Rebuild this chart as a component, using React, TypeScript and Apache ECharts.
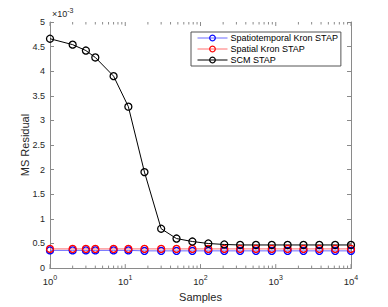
import React, { useEffect, useRef } from "react";
import * as echarts from "echarts";

const samples = [1, 2, 3, 4, 7, 11, 18, 30, 48, 78, 127, 207, 336, 546, 886, 1438, 2336, 3793, 6158, 10000];
const spatiotemporalKron = [0.36, 0.36, 0.36, 0.36, 0.36, 0.36, 0.35, 0.35, 0.35, 0.35, 0.35, 0.35, 0.35, 0.35, 0.35, 0.35, 0.35, 0.35, 0.35, 0.35];
const spatialKron = [0.39, 0.39, 0.39, 0.39, 0.39, 0.39, 0.39, 0.39, 0.39, 0.39, 0.39, 0.39, 0.39, 0.39, 0.39, 0.39, 0.39, 0.39, 0.39, 0.39];
const scmStap = [4.66, 4.54, 4.42, 4.28, 3.9, 3.28, 1.95, 0.8, 0.6, 0.54, 0.5, 0.48, 0.47, 0.47, 0.47, 0.47, 0.47, 0.47, 0.47, 0.47];
const seriesNames = ["Spatiotemporal Kron STAP", "Spatial Kron STAP", "SCM STAP"];
const majorTicks = [1, 10, 100, 1000, 10000];
const minorTicks: number[] = [];
for (let d = 1; d < 10000; d *= 10) for (let k = 2; k <= 9; k++) minorTicks.push(d * k);

const AXL = "#8a8a8a";
const TXT = "#262626";
const FONT = "Liberation Sans, Arial, sans-serif";

export default function App() {
  const ref = useRef<HTMLDivElement>(null);
  useEffect(() => {
    const chart = echarts.init(ref.current!, null, { renderer: "svg" });
    const mk = (name: string, data: number[], color: string, lineColor: string) => ({
      name,
      type: "line",
      data: samples.map((s, i) => [s, data[i]]),
      symbol: "circle",
      symbolSize: 7,
      showSymbol: true,
      itemStyle: { color: "rgba(0,0,0,0)", borderColor: color, borderWidth: 1.3 },
      lineStyle: { color: lineColor, width: 1 },
      color,
    });
    const axisLine = { show: true, lineStyle: { color: AXL, width: 1 } };
    const axisTick = { show: true, inside: true, length: 4, lineStyle: { color: AXL, width: 1 } };
    const tickSeries = (vals: number[], len: number) => ({
      type: "custom",
      silent: true,
      xAxisIndex: 0,
      yAxisIndex: 0,
      data: vals.map((v) => [v]),
      renderItem: (params: any, api: any) => {
        const v = api.value(0);
        const b = api.coord([v, 0]);
        const t = api.coord([v, 5]);
        const st = { stroke: AXL, lineWidth: 1 };
        return {
          type: "group",
          children: [
            { type: "line", shape: { x1: b[0], y1: b[1], x2: b[0], y2: b[1] - len }, style: st },
            { type: "line", shape: { x1: t[0], y1: t[1], x2: t[0], y2: t[1] + len }, style: st },
          ],
        };
      },
    });
    chart.setOption({
      animation: false,
      textStyle: { fontFamily: FONT },
      grid: { left: 50, right: 37, top: 22, bottom: 34 },
      legend: {
        data: seriesNames,
        orient: "vertical",
        left: 191,
        top: 32,
        backgroundColor: "#fff",
        borderColor: "#555",
        borderWidth: 1,
        borderRadius: 0,
        padding: [1, 3, 1, 6],
        itemGap: 1,
        itemWidth: 30,
        itemHeight: 7,
        lineStyle: { width: 1 },
        itemStyle: { borderWidth: 1.2 },
        textStyle: { fontSize: 9, lineHeight: 10, color: "#000", fontFamily: FONT, padding: [0, 0, 0, -2] },
      },
      xAxis: [
        {
          type: "log",
          logBase: 10,
          min: 1,
          max: 10000,
          name: "Samples",
          nameLocation: "middle",
          nameGap: 18,
          nameTextStyle: { fontSize: 11, color: TXT },
          axisLine,
          axisTick: { show: false },
          splitLine: { show: false },
          axisLabel: {
            margin: 6,
            color: TXT,
            fontSize: 9.5,
            formatter: (v: number) => "10{sup|" + Math.round(Math.log10(v)) + "}",
            rich: { sup: { fontSize: 7, verticalAlign: "top", padding: [0, 0, 7, 0] } },
          },
        },
        {
          type: "log",
          logBase: 10,
          min: 1,
          max: 10000,
          position: "top",
          axisLine,
          axisTick: { show: false },
          axisLabel: { show: false },
          splitLine: { show: false },
        },
      ],
      yAxis: [
        {
          type: "value",
          min: 0,
          max: 5,
          interval: 0.5,
          name: "MS Residual",
          nameLocation: "middle",
          nameGap: 20,
          nameMoveOverlap: false,
          nameTextStyle: { fontSize: 11, color: TXT },
          axisLine,
          axisTick,
          splitLine: { show: false },
          axisLabel: { color: TXT, fontSize: 9, margin: 5, formatter: (v: number) => String(v) },
        },
        {
          type: "value",
          min: 0,
          max: 5,
          interval: 0.5,
          position: "right",
          axisLine,
          axisTick,
          axisLabel: { show: false },
          splitLine: { show: false },
        },
      ],
      graphic: [
        {
          type: "text",
          left: 52,
          top: 7,
          style: {
            text: "×10{sup|-3}",
            fill: TXT,
            fontSize: 9,
            fontFamily: FONT,
            rich: { sup: { fontSize: 7, verticalAlign: "top", padding: [0, 0, 6, 0], fill: TXT } },
          },
        },
      ],
      series: [
        tickSeries(minorTicks, 2.5),
        tickSeries(majorTicks, 4),
        mk(seriesNames[0], spatiotemporalKron, "#0000ff", "#6b6bff"),
        mk(seriesNames[1], spatialKron, "#ff0000", "#ff7070"),
        mk(seriesNames[2], scmStap, "#000000", "#000000"),
      ],
    });
    return () => chart.dispose();
  }, []);
  return <div ref={ref} style={{ position: "absolute", left: 0, top: 0, width: 388, height: 307 }} />;
}
